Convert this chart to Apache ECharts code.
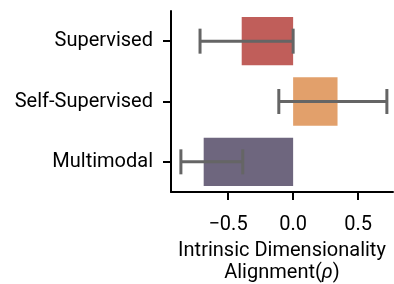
<!DOCTYPE html>
<html>
<head>
<meta charset="utf-8" />
<title>ID alignment</title>
<script src="https://cdn.jsdelivr.net/npm/echarts@6/dist/echarts.min.js"></script>
<style>
  html, body { margin: 0; padding: 0; background: #fff; }
  #main { width: 394px; height: 284px; }
</style>
</head>
<body>
<div id="main"></div>
<script type="text/javascript">
// data
var categories = ['Supervised', 'Self-Supervised', 'Multimodal'];
var means = [-0.395, 0.341, -0.687];
var errLow = [-0.715, -0.11, -0.862];
var errHigh = [0.0, 0.72, -0.387];
var barColors = ['#c05e5a', '#e2a06b', '#6e667e'];
var xTicks = [-0.5, 0, 0.5];

var chart = echarts.init(document.getElementById('main'));
var font = 'Roboto';

var errData = [];
for (var i = 0; i < categories.length; i++) {
  errData.push([i, errLow[i], errHigh[i]]);
}

var option = {
  animation: false,
  grid: { left: 171, right: 1, top: 11, bottom: 92, outerBoundsMode: 'none' },
  xAxis: {
    type: 'value',
    min: -0.938,
    max: 0.767,
    axisLine: { show: true, onZero: false, lineStyle: { color: '#000', width: 2 } },
    axisTick: { show: true, customValues: xTicks, length: 8, lineStyle: { color: '#000', width: 2 } },
    axisLabel: {
      customValues: xTicks,
      color: '#000', fontFamily: font, fontSize: 20, margin: 23,
      formatter: function (v) { return (v < 0 ? '\u2212' : '') + Math.abs(v).toFixed(1); }
    },
    splitLine: { show: false },
    name: 'Intrinsic Dimensionality\nAlignment({i|\u03c1})',
    nameLocation: 'middle',
    nameGap: 48,
    nameTextStyle: {
      color: '#000', fontFamily: font, fontSize: 20, lineHeight: 22,
      rich: { i: { fontStyle: 'italic', fontFamily: font, fontSize: 20, color: '#000', lineHeight: 22 } }
    }
  },
  yAxis: {
    type: 'category',
    data: categories,
    inverse: true,
    axisLine: { show: true, onZero: false, lineStyle: { color: '#000', width: 2 } },
    axisTick: { show: true, alignWithLabel: true, length: 8, lineStyle: { color: '#000', width: 2 } },
    axisLabel: { color: '#000', fontFamily: font, fontSize: 20, margin: 18 }
  },
  series: [
    {
      type: 'bar',
      data: means.map(function (v, i) { return { value: v, itemStyle: { color: barColors[i] } }; }),
      barWidth: '80%'
    },
    {
      type: 'custom',
      data: errData,
      encode: { x: [1, 2], y: 0 },
      z: 5,
      renderItem: function (params, api) {
        var c = api.value(0);
        var p1 = api.coord([api.value(1), c]);
        var p2 = api.coord([api.value(2), c]);
        var h = 12.5;
        var st = { stroke: '#656565', lineWidth: 3 };
        return {
          type: 'group',
          children: [
            { type: 'line', shape: { x1: p1[0], y1: p1[1], x2: p2[0], y2: p2[1] }, style: st },
            { type: 'line', shape: { x1: p1[0], y1: p1[1] - h, x2: p1[0], y2: p1[1] + h }, style: st },
            { type: 'line', shape: { x1: p2[0], y1: p2[1] - h, x2: p2[0], y2: p2[1] + h }, style: st }
          ]
        };
      }
    }
  ]
};

chart.setOption(option);
</script>
</body>
</html>
